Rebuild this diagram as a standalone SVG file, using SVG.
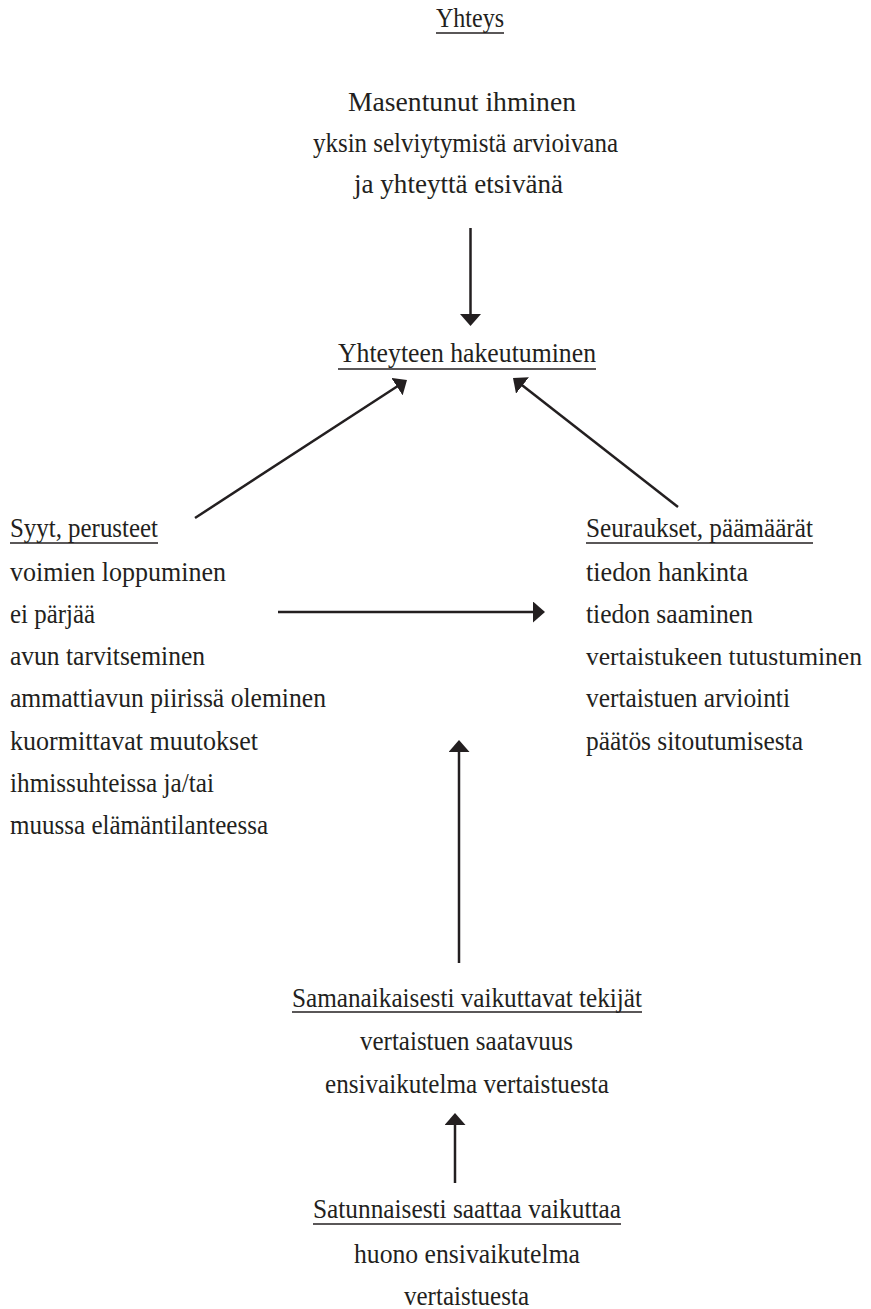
<svg xmlns="http://www.w3.org/2000/svg" width="871" height="1309" viewBox="0 0 871 1309" font-family="Liberation Serif, DejaVu Serif, serif" font-size="28">
<style>
text{font-family:"Liberation Serif","DejaVu Serif",serif;font-size:28px;fill:#231f20}
.u{stroke:#231f20;stroke-width:1.4}
.c{stroke:#231f20;stroke-width:2.5;fill:none}
</style>
<defs>
<marker id="ah" markerUnits="userSpaceOnUse" markerWidth="12" markerHeight="21" viewBox="0 0 12 21" refX="2" refY="10.5" orient="auto">
<path d="M0,0 L12,10.5 L0,21 z" fill="#231f20"/>
</marker>
</defs>
<rect width="871" height="1309" fill="#ffffff"/>
<g id="title">
<text x="436" y="27" textLength="68" lengthAdjust="spacingAndGlyphs">Yhteys</text>
<line class="u" x1="436" y1="33" x2="504" y2="33"/>
</g>
<g id="start">
<text x="348" y="111" textLength="228" lengthAdjust="spacingAndGlyphs">Masentunut ihminen</text>
<text x="313" y="152" textLength="305" lengthAdjust="spacingAndGlyphs">yksin selviytymistä arvioivana</text>
<text x="354" y="193" textLength="209" lengthAdjust="spacingAndGlyphs">ja yhteyttä etsivänä</text>
</g>
<g id="hakeutuminen">
<text x="338" y="362" textLength="258" lengthAdjust="spacingAndGlyphs">Yhteyteen hakeutuminen</text>
<line class="u" x1="338" y1="369" x2="596" y2="369"/>
</g>
<g id="syyt">
<text x="10" y="537" textLength="148" lengthAdjust="spacingAndGlyphs">Syyt, perusteet</text>
<line class="u" x1="10" y1="543" x2="158" y2="543"/>
<text x="10" y="581" textLength="216" lengthAdjust="spacingAndGlyphs">voimien loppuminen</text>
<text x="10" y="623" textLength="85" lengthAdjust="spacingAndGlyphs">ei pärjää</text>
<text x="10" y="665" textLength="195" lengthAdjust="spacingAndGlyphs">avun tarvitseminen</text>
<text x="10" y="707" textLength="316" lengthAdjust="spacingAndGlyphs">ammattiavun piirissä oleminen</text>
<text x="10" y="750" textLength="248" lengthAdjust="spacingAndGlyphs">kuormittavat muutokset</text>
<text x="10" y="792" textLength="204" lengthAdjust="spacingAndGlyphs">ihmissuhteissa ja/tai</text>
<text x="10" y="834" textLength="258" lengthAdjust="spacingAndGlyphs">muussa elämäntilanteessa</text>
</g>
<g id="seuraukset">
<text x="586" y="537" textLength="227" lengthAdjust="spacingAndGlyphs">Seuraukset, päämäärät</text>
<line class="u" x1="586" y1="543" x2="813" y2="543"/>
<text x="586" y="581" textLength="162" lengthAdjust="spacingAndGlyphs">tiedon hankinta</text>
<text x="586" y="623" textLength="167" lengthAdjust="spacingAndGlyphs">tiedon saaminen</text>
<text x="586" y="665" textLength="276" lengthAdjust="spacingAndGlyphs" style="font-size:25px">vertaistukeen tutustuminen</text>
<text x="586" y="707" textLength="204" lengthAdjust="spacingAndGlyphs">vertaistuen arviointi</text>
<text x="586" y="750" textLength="217" lengthAdjust="spacingAndGlyphs">päätös sitoutumisesta</text>
</g>
<g id="samanaikaisesti">
<text x="292" y="1007" textLength="350" lengthAdjust="spacingAndGlyphs">Samanaikaisesti vaikuttavat tekijät</text>
<line class="u" x1="292" y1="1012" x2="642" y2="1012"/>
<text x="360" y="1050" textLength="213" lengthAdjust="spacingAndGlyphs">vertaistuen saatavuus</text>
<text x="325" y="1093" textLength="284" lengthAdjust="spacingAndGlyphs">ensivaikutelma vertaistuesta</text>
</g>
<g id="satunnaisesti">
<text x="313" y="1218" textLength="308" lengthAdjust="spacingAndGlyphs">Satunnaisesti saattaa vaikuttaa</text>
<line class="u" x1="313" y1="1224" x2="621" y2="1224"/>
<text x="354" y="1263" textLength="226" lengthAdjust="spacingAndGlyphs">huono ensivaikutelma</text>
<text x="404" y="1305" textLength="125" lengthAdjust="spacingAndGlyphs">vertaistuesta</text>
</g>
<g id="connectors">
<line class="c" x1="470.5" y1="228" x2="470.5" y2="316" marker-end="url(#ah)"/>
<line class="c" x1="195" y1="518" x2="398.6" y2="385.5" marker-end="url(#ah)"/>
<line class="c" x1="678" y1="507" x2="520.9" y2="384.2" marker-end="url(#ah)"/>
<line class="c" x1="278" y1="612" x2="535" y2="612" marker-end="url(#ah)"/>
<line class="c" x1="459" y1="963" x2="459" y2="750" marker-end="url(#ah)"/>
<line class="c" x1="455" y1="1183" x2="455" y2="1123" marker-end="url(#ah)"/>
</g>
</svg>
